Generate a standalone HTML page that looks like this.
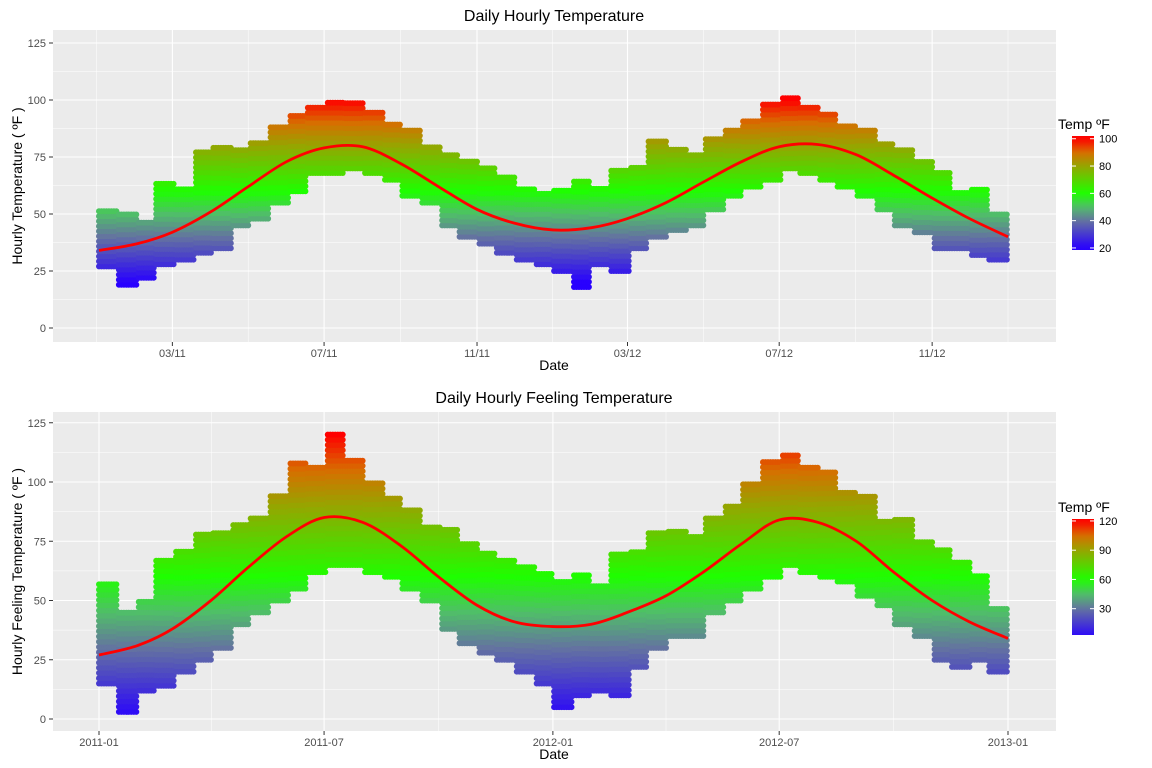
<!DOCTYPE html>
<html><head><meta charset="utf-8"><style>
body{margin:0;background:#fff;font-family:"Liberation Sans",sans-serif}
svg{display:block}
</style></head><body>
<svg id="s" width="1152" height="768" xmlns="http://www.w3.org/2000/svg"></svg>
<script>
// ---- data (semi-monthly envelopes, Jan 2011 - Dec 2012) ----
const tempLow=[27,19,22,28,30,33,35,45,48,55,60,68,68,70,68,65,58,55,45,40,37,33,30,28,
25,18,28,25,35,40,43,45,52,58,62,65,70,68,65,62,58,52,45,42,35,35,32,30];
const tempHigh=[52,50,48,65,62,78,80,80,82,90,95,97,99,99,95,90,88,80,78,75,72,68,62,60,
62,65,62,70,72,82,80,78,85,88,92,100,102,97,95,90,88,82,80,75,70,60,62,52];
const feelLow=[15,3,12,14,20,25,30,40,45,50,55,62,65,65,62,60,55,50,38,32,28,25,20,15,
5,10,12,10,22,30,35,35,45,50,55,60,65,62,60,58,52,48,40,35,25,22,25,20];
const feelHigh=[57,45,50,68,72,78,80,82,85,95,108,108,122,110,100,95,90,82,80,75,72,68,65,62,
60,62,58,70,72,80,80,78,85,90,100,110,113,108,105,97,95,85,85,75,72,68,62,48];
// monthly smooth fit (1st of month, Jan 2011 .. Jan 2013)
const tempSmooth=[34,37,42,51,62,73,79,79.5,72,62,52,46,43,44,48,55,64,73,79.5,80.5,76,67,57,48,40];
const feelSmooth=[27,31,38,50,64,77,85,83,73,60,48,41,39,40,45,52,62,74,84,83,75,62,50,41,34];
const yTicks=[0,25,50,75,100,125];
const topXLabels=["03/11","07/11","11/11","03/12","07/12","11/12"];
const topXDays=[59,181,304,425,547,670];
const botXLabels=["2011-01","2011-07","2012-01","2012-07","2013-01"];
const botXDays=[0,181,365,547,731];
const monthStart=[0,31,59,90,120,151,181,212,243,273,304,334,365,396,425,456,486,517,547,578,609,639,670,700,731];

const NS="http://www.w3.org/2000/svg";
const svg=document.getElementById('s');
function el(tag,attrs,parent,text){const e=document.createElementNS(NS,tag);for(const k in attrs)e.setAttribute(k,attrs[k]);if(text!==undefined)e.textContent=text;(parent||svg).appendChild(e);return e;}
const stops=[[-1,[40,0,255]],[-0.5,[100,115,160]],[-0.25,[80,190,105]],[0,[30,255,0]],[0.5,[150,165,0]],[0.75,[215,110,0]],[1,[255,0,0]]];
function colT(t){t=Math.max(-1,Math.min(1,t));for(let i=0;i<stops.length-1;i++){const a=stops[i],b=stops[i+1];if(t<=b[0]){const f=(t-a[0])/(b[0]-a[0]);const c=a[1].map((v,j)=>Math.round(v+(b[1][j]-v)*f));return`rgb(${c})`;}}return'rgb(255,0,0)';}
const xDay=d=>99+d*1.2435;

function panel(o){
  const g=el('g',{}, svg);
  
  
  const y=v=>o.y0-v*o.k;
  el('rect',{x:53,y:o.top,width:1003,height:o.bot-o.top,fill:'#ebebeb',},g);
  for(let i=0;i<yTicks.length;i++){
    el('line',{x1:53,x2:1056,y1:y(yTicks[i]),y2:y(yTicks[i]),stroke:'#fff','stroke-width':1.1},g);
    const m=yTicks[i]+12.5; if(y(m)>o.top) el('line',{x1:53,x2:1056,y1:y(m),y2:y(m),stroke:'#fff','stroke-width':0.5},g);
    el('text',{x:46,y:y(yTicks[i])+4,'text-anchor':'end','font-size':11,fill:'#4d4d4d',},g,yTicks[i]);
    el('line',{x1:49,x2:53,y1:y(yTicks[i]),y2:y(yTicks[i]),stroke:'#333'},g);
  }
  const xd=o.xDays;const step=xd[1]-xd[0];
  const minors=[xd[0]-step/2];for(let i=0;i<xd.length;i++)minors.push(xd[i]+(i<xd.length-1?(xd[i+1]-xd[i])/2:step/2));
  minors.forEach(d=>{const X=xDay(d);if(X>53&&X<1056)el('line',{x1:X,x2:X,y1:o.top,y2:o.bot,stroke:'#fff','stroke-width':0.5},g);});
  xd.forEach((d,i)=>{const X=xDay(d);
    el('line',{x1:X,x2:X,y1:o.top,y2:o.bot,stroke:'#fff','stroke-width':1.1},g);
    el('line',{x1:X,x2:X,y1:o.bot,y2:o.bot+4,stroke:'#333'},g);
    el('text',{x:X,y:o.bot+15,'text-anchor':'middle','font-size':11,fill:'#4d4d4d',},g,o.xLabels[i]);});
  const pts=el('g',{},g);
  for(let d=0;d<731;d+=2){
    const idx=Math.min(47,Math.floor(d/731*48));
    const lo=o.low[idx],hi=o.high[idx];
    for(let v=lo;v<=hi;v+=2.2){
      el('circle',{cx:xDay(d).toFixed(1),cy:y(v).toFixed(1),r:3,fill:colT((v-o.mid)/o.half)},pts);
    }
  }
  const P=o.smooth.map((v,i)=>[xDay(monthStart[i]),y(v)]);
  let dd=`M${P[0][0]},${P[0][1]}`;
  for(let i=0;i<P.length-1;i++){const p0=P[Math.max(0,i-1)],p1=P[i],p2=P[i+1],p3=P[Math.min(P.length-1,i+2)];
    dd+=` C${p1[0]+(p2[0]-p0[0])/6},${p1[1]+(p2[1]-p0[1])/6} ${p2[0]-(p3[0]-p1[0])/6},${p2[1]-(p3[1]-p1[1])/6} ${p2[0]},${p2[1]}`;}
  el('path',{d:dd,fill:'none',stroke:'#ff0000','stroke-width':2.8,},g);
  el('text',{x:554,y:o.top-9,'text-anchor':'middle','font-size':16,fill:'#000',},g,o.title);
  el('text',{x:554,y:o.bot+28,'text-anchor':'middle','font-size':14,fill:'#000',},g,'Date');
  const cy=(o.top+o.bot)/2;
  el('text',{x:22,y:cy,'text-anchor':'middle','font-size':14,fill:'#000',transform:`rotate(-90 22 ${cy})`,},g,o.ytitle);
  const lg=el('g',{},g);
  el('text',{x:1058,y:o.legTop-7,'font-size':14,fill:'#000'},lg,'Temp ºF');
  const gid='grad'+o.name;
  const lgr=el('linearGradient',{id:gid,x1:0,y1:1,x2:0,y2:0},el('defs',{},lg));
  for(let i=0;i<=20;i++){const v=o.legMin+(o.legMax-o.legMin)*i/20;el('stop',{offset:i/20,'stop-color':colT((v-o.mid)/o.half)},lgr);}
  el('rect',{x:1072,y:o.legTop,width:22,height:o.legBot-o.legTop,fill:`url(#${gid})`},lg);
  o.legTicks.forEach(v=>{const Y=o.legBot-(v-o.legMin)/(o.legMax-o.legMin)*(o.legBot-o.legTop);
    el('line',{x1:1072,x2:1076,y1:Y,y2:Y,stroke:'#fff'},lg);el('line',{x1:1090,x2:1094,y1:Y,y2:Y,stroke:'#fff'},lg);
    el('text',{x:1099,y:Y+4,'font-size':11,fill:'#000'},lg,v);});
}
panel({name:'hourly-temperature-panel',top:30,bot:342,y0:328,k:2.28,low:tempLow,high:tempHigh,smooth:tempSmooth,mid:60,half:40,
  xDays:topXDays,xLabels:topXLabels,title:'Daily Hourly Temperature',ytitle:'Hourly Temperature ( ºF )',
  legTop:136,legBot:250,legMin:18.5,legMax:102,legTicks:[20,40,60,80,100]});
panel({name:'feeling-temperature-panel',top:412,bot:731,y0:719,k:2.37,low:feelLow,high:feelHigh,smooth:feelSmooth,mid:60,half:60,
  xDays:botXDays,xLabels:botXLabels,title:'Daily Hourly Feeling Temperature',ytitle:'Hourly Feeling Temperature ( ºF )',
  legTop:519,legBot:635,legMin:3,legMax:122,legTicks:[30,60,90,120]});
</script>
</body></html>
